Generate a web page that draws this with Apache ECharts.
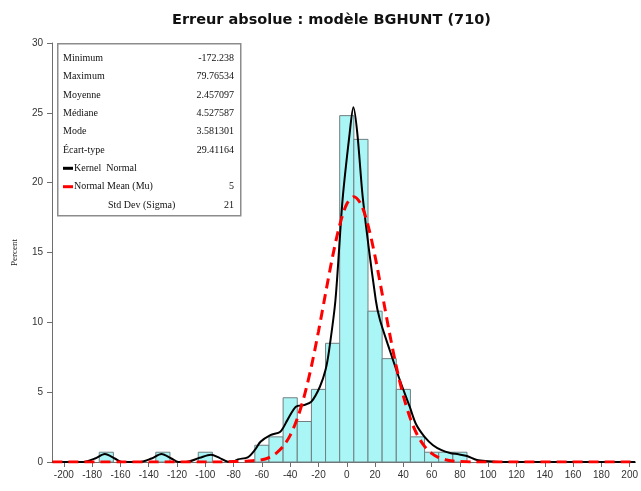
<!DOCTYPE html>
<html>
<head>
<meta charset="utf-8">
<script src="https://cdn.jsdelivr.net/npm/echarts@6/dist/echarts.min.js"></script>
<style>
  html, body { margin: 0; padding: 0; background: #ffffff; }
  #chart { width: 641px; height: 491px; }
</style>
</head>
<body>
<div id="chart"></div>
<script>
// Histogram of absolute error, bins of width 10 (midpoints)
const binMid = [-170, -130, -100, -60, -50, -40, -30, -20, -10, 0, 10, 20, 30, 40, 50, 60, 70, 80];
const binPct = [0.7, 0.7, 0.7, 1.2, 1.8, 4.6, 2.9, 5.2, 8.5, 24.8, 23.1, 10.8, 7.4, 5.2, 1.8, 0.7, 0.7, 0.7];
const binWidth = 10;

// Kernel density estimate (percent scale)
const kernelX = [-208, -186, -178, -171, -164, -159, -146, -138, -131, -124, -119, -114, -104, -96, -90, -84, -80, -77, -70, -65, -61, -54, -47, -42, -36, -30, -25, -19, -15, -12.5, -8, -3, 2, 4.7, 7.5, 11.5, 20.5, 23.4, 30.4, 37.5, 44.5, 49, 55, 61, 67, 73, 79, 85, 92, 100, 108, 204];
const kernelPct = [0, 0, 0.25, 0.57, 0.25, 0, 0, 0.25, 0.57, 0.25, 0, 0, 0.3, 0.52, 0.3, 0.02, 0.03, 0.19, 0.34, 0.86, 1.45, 1.93, 2.17, 3.0, 3.96, 4.08, 4.32, 5.39, 6.6, 8.0, 11.6, 18.75, 23.5, 25.4, 23.5, 18.75, 11.6, 10.2, 8.0, 5.87, 3.96, 2.7, 1.8, 1.2, 0.85, 0.65, 0.55, 0.43, 0.14, 0.05, 0, 0];

// Fitted normal curve, Mu = 5, Sigma = 21 (percent scale)
const normalX = [-208, -90, -80, -70, -60, -55, -50, -45, -40, -35, -30, -25, -20, -15, -10, -5, 0, 5, 10, 15, 20, 25, 30, 35, 40, 45, 50, 55, 60, 65, 70, 75, 80, 90, 204];
const normalPct = [0, 0, 0.03, 0.07, 0.16, 0.32, 0.62, 1.12, 1.91, 3.1, 4.74, 6.85, 9.35, 12.07, 14.72, 16.96, 18.47, 19.0, 18.47, 16.96, 14.72, 12.07, 9.35, 6.85, 4.74, 3.1, 1.91, 1.12, 0.62, 0.32, 0.16, 0.07, 0.03, 0, 0];

const xTicks = [-200, -180, -160, -140, -120, -100, -80, -60, -40, -20, 0, 20, 40, 60, 80, 100, 120, 140, 160, 180, 200];

// Summary statistics panel
const statLabels = ['Minimum', 'Maximum', 'Moyenne', 'Médiane', 'Mode', 'Écart-type'];
const statValues = ['-172.238', '79.76534', '2.457097', '4.527587', '3.581301', '29.41164'];
const fitLabels = ['Kernel  Normal', 'Normal Mean (Mu)', 'Std Dev (Sigma)'];
const fitValues = ['', '5', '21'];

const chart = echarts.init(document.getElementById('chart'));

const serifFont = '"Liberation Serif", "DejaVu Serif", serif';
const panel = [];
panel.push({
  type: 'rect', left: 57, top: 43, z: 10,
  shape: { width: 183, height: 172 },
  style: { fill: '#ffffff', stroke: '#8c8c8c', lineWidth: 1.5 }
});
const rowY0 = 58.5, rowStep = 18.3;
statLabels.forEach((t, i) => {
  panel.push({ type: 'text', x: 63, y: rowY0 + i * rowStep, z: 11,
    style: { text: t, font: '10px ' + serifFont, fill: '#111', textVerticalAlign: 'middle' } });
  panel.push({ type: 'text', x: 234, y: rowY0 + i * rowStep, z: 11,
    style: { text: statValues[i], font: '10px ' + serifFont, fill: '#111', textAlign: 'right', textVerticalAlign: 'middle' } });
});
const fitRowY = [168.3, 186.7, 205];
const fitTextX = [74, 74, 108];
fitLabels.forEach((t, i) => {
  panel.push({ type: 'text', x: fitTextX[i], y: fitRowY[i], z: 11,
    style: { text: t, font: '10px ' + serifFont, fill: '#111', textVerticalAlign: 'middle' } });
  if (fitValues[i]) {
    panel.push({ type: 'text', x: 234, y: fitRowY[i], z: 11,
      style: { text: fitValues[i], font: '10px ' + serifFont, fill: '#111', textAlign: 'right', textVerticalAlign: 'middle' } });
  }
});
panel.push({ type: 'line', z: 11, shape: { x1: 63, y1: fitRowY[0], x2: 73, y2: fitRowY[0] },
  style: { stroke: '#000000', lineWidth: 3 } });
panel.push({ type: 'line', z: 11, shape: { x1: 63, y1: fitRowY[1], x2: 73, y2: fitRowY[1] },
  style: { stroke: '#ff0000', lineWidth: 3 } });

const tickFont = '"Liberation Sans", Arial, sans-serif';

chart.setOption({
  animation: false,
  backgroundColor: '#ffffff',
  title: {
    text: 'Erreur absolue : modèle BGHUNT (710)',
    left: 167, top: 8,
    textStyle: { fontFamily: '"DejaVu Sans", Verdana, sans-serif', fontWeight: 'bold', fontSize: 14.5, color: '#111' }
  },
  grid: { left: 52, right: 0, top: 43, bottom: 29 },
  xAxis: {
    type: 'value', min: -208.4, max: 204,
    splitLine: { show: false },
    axisLine: { show: true, onZero: false, lineStyle: { color: '#6e6e6e', width: 1 } },
    axisTick: { show: true, length: 5, customValues: xTicks, lineStyle: { color: '#6e6e6e' } },
    axisLabel: { customValues: xTicks, margin: 8, fontFamily: tickFont, fontSize: 10, color: '#333' }
  },
  yAxis: {
    type: 'value', min: 0, max: 30, interval: 5,
    name: 'Percent', nameLocation: 'middle', nameGap: 33, nameRotate: 90,
    nameTextStyle: { fontFamily: serifFont, fontSize: 9, color: '#222' },
    splitLine: { show: false },
    axisLine: { show: true, onZero: false, lineStyle: { color: '#6e6e6e', width: 1 } },
    axisTick: { show: true, length: 5, lineStyle: { color: '#6e6e6e' } },
    axisLabel: { margin: 9, fontFamily: tickFont, fontSize: 10, color: '#333' }
  },
  graphic: panel,
  series: [
    {
      type: 'custom',
      data: binMid.map((m, i) => [m, binPct[i]]),
      encode: { x: 0, y: 1 },
      z: 2,
      renderItem: function (params, api) {
        const mid = api.value(0);
        const top = api.coord([mid - binWidth / 2, api.value(1)]);
        const base = api.coord([mid + binWidth / 2, 0]);
        return {
          type: 'rect',
          shape: { x: top[0], y: top[1], width: base[0] - top[0], height: base[1] - top[1] },
          style: { fill: '#aaf6f6', stroke: '#6f7f80', lineWidth: 1 }
        };
      }
    },
    {
      type: 'line',
      data: kernelX.map((x, i) => [x, kernelPct[i]]),
      smooth: 0.3,
      showSymbol: false,
      z: 3,
      lineStyle: { color: '#000000', width: 2 }
    },
    {
      type: 'line',
      data: normalX.map((x, i) => [x, normalPct[i]]),
      smooth: 0.3,
      showSymbol: false,
      z: 4,
      lineStyle: { color: '#ff0000', width: 3, type: [10, 6] }
    }
  ]
});
</script>
</body>
</html>
